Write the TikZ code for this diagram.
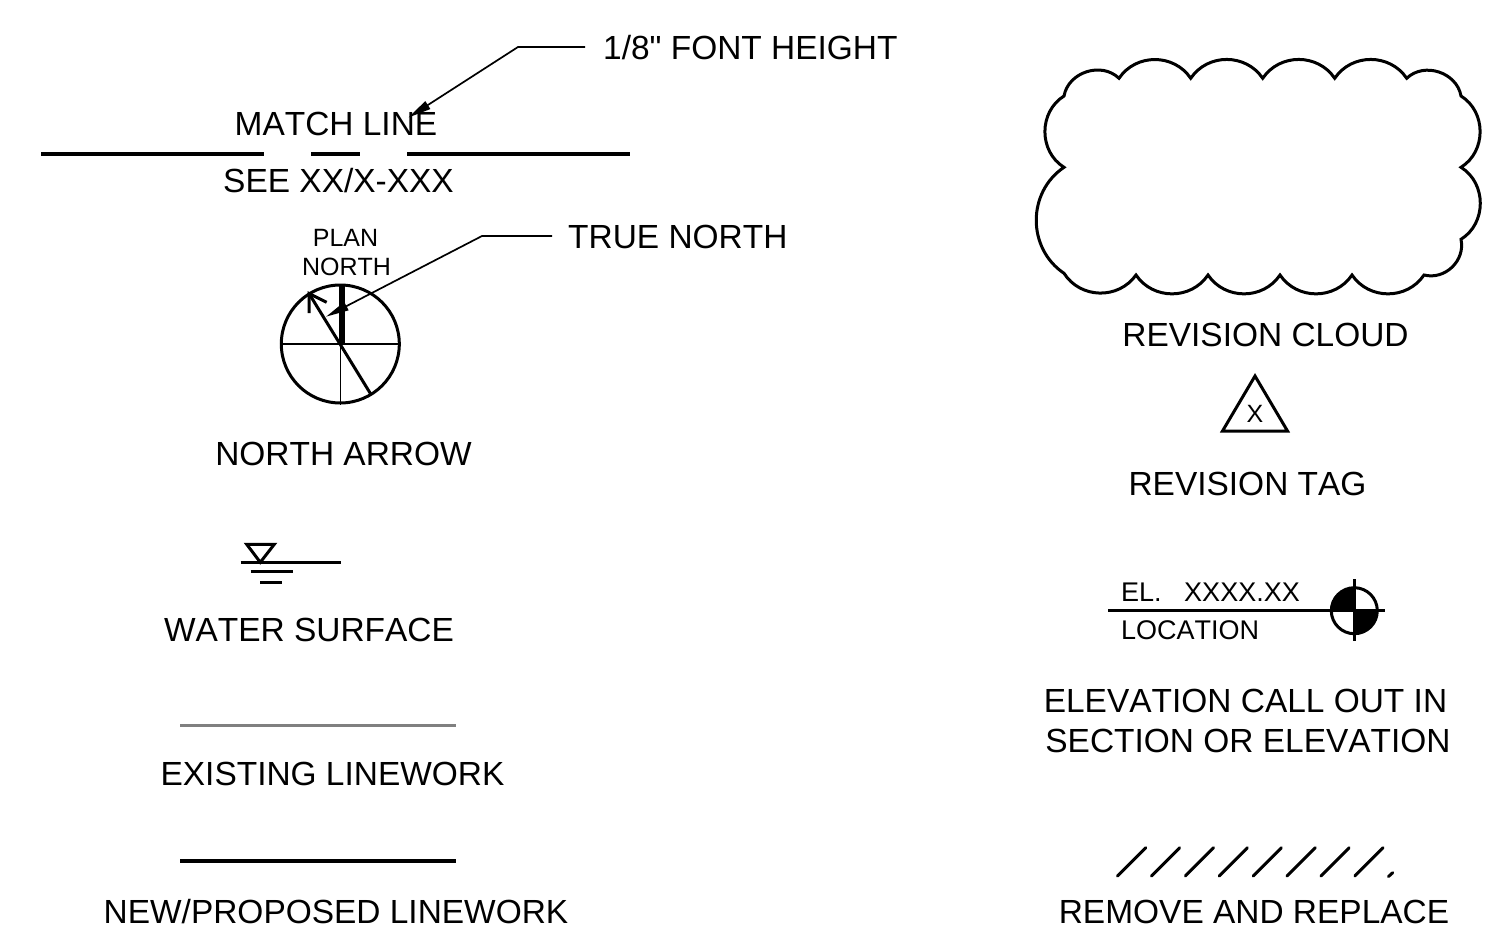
\documentclass[tikz,border=0pt]{standalone}
\usepackage{fontspec}
\setmainfont{Liberation Sans}[Kerning=Off]
\newfontfamily\plainfont{Liberation Sans}
\usetikzlibrary{arrows.meta}
\tikzset{
  x=1pt,y=-1pt,
  big/.style={inner sep=0pt,font=\fontsize{33.45}{36}\selectfont,anchor=base},
  bigl/.style={big,anchor=base west},
  small/.style={inner sep=0pt,font=\fontsize{25}{27}\selectfont,anchor=base},
  mid/.style={inner sep=0pt,font=\fontsize{27}{29}\selectfont,anchor=base west},
  heavy/.style={line width=3.4pt,line cap=butt},
  medium/.style={line width=3pt},
  thin line/.style={line width=1.6pt},
  leader/.style={line width=1.7pt,-{Triangle[length=23pt,width=9pt]}},
  cloudline/.style={line width=3pt,line join=miter,looseness=1.08},
}
\begin{document}
\begin{tikzpicture}
\useasboundingbox (0,0) rectangle (1503,952);
\fill[white] (0,0) rectangle (1503,952);

% texts
\node[bigl] (fh) at (603,60) {1/8{\plainfont "} FONT HEIGHT};
\node[big] (ml) at (336,136) {MATCH LINE};
\node[big] (see) at (338.5,193) {SEE XX/X-XXX};
\node[small] (pl) at (345.5,246) {PLAN};
\node[small] (pn) at (346.5,275) {NORTH};
\node[bigl] (tn) at (568,248) {TRUE NORTH};
\node[big] (na) at (343.5,465) {NORTH ARROW};
\node[big] (ws) at (309,641) {WATER SURFACE};
\node[big] (el) at (332.5,785) {EXISTING LINEWORK};
\node[big] (nl) at (336,923) {NEW/PROPOSED LINEWORK};
\node[big] (rc) at (1265.5,346) {REVISION CLOUD};
\node[big] (rt) at (1247.5,495) {REVISION TAG};
\node[mid] (ev) at (1121,601) {EL.\ \ \ XXXX.XX};
\node[mid] (lo) at (1121,639) {LOCATION};
\node[big] (e1) at (1245.5,712) {ELEVATION CALL OUT IN};
\node[big] (e2) at (1248,752) {SECTION OR ELEVATION};
\node[big] (rr) at (1254,923) {REMOVE AND REPLACE};

% match line
\coordinate (m1) at (41,154); \coordinate (m2) at (264,154);
\coordinate (m3) at (311,154); \coordinate (m4) at (360,154);
\coordinate (m5) at (407,154); \coordinate (m6) at (630,154);
\draw[heavy] (m1) -- (m2);
\draw[heavy] (m3) -- (m4);
\draw[heavy] (m5) -- (m6);
\coordinate (fa) at (585,47); \coordinate (fb) at (518,47); \coordinate (ft) at (408.5,117.5);
\draw[leader] (fa) -- (fb) -- (ft);

% north arrow
\coordinate (nc) at (340.3,344);
\node[circle,draw,medium,minimum size=118pt,inner sep=0pt] (nr) at (nc) {};
\draw[thin line] (nr.west) -- (nr.east);
\draw[thin line] (nc) -- (nr.south);
\coordinate (th) at (342,285.5); \coordinate (tb) at (342,344);
\draw[line width=5.5pt] (th) -- (tb);
\coordinate (da) at (370.7,394); \coordinate (db) at (309,293.5);
\coordinate (b1) at (309,313); \coordinate (b2) at (326.7,302.3);
\draw[medium] (da) -- (db);
\draw[medium] (b1) -- (db) -- (b2);
\coordinate (ta) at (552,236); \coordinate (tc) at (482,236); \coordinate (tt) at (326,316.7);
\draw[leader] (ta) -- (tc) -- (tt);

% water surface
\coordinate (w1) at (246.7,544.3); \coordinate (w2) at (274.3,544.3); \coordinate (w3) at (260.3,562.3);
\draw[medium] (w1) -- (w2) -- (w3) -- cycle;
\coordinate (wa) at (240.7,562.3); \coordinate (wb) at (340.7,562.3);
\coordinate (wc) at (250.7,571.5); \coordinate (wd) at (292.7,571.5);
\coordinate (we) at (260,582.3); \coordinate (wf) at (281.7,582.3);
\draw[medium] (wa) -- (wb);
\draw[medium] (wc) -- (wd);
\draw[medium] (we) -- (wf);

% linework samples
\coordinate (xa) at (180,725); \coordinate (xb) at (456,725);
\coordinate (ya) at (180,861); \coordinate (yb) at (456,861);
\draw[medium,color=black!50] (xa) -- (xb);
\draw[heavy] (ya) -- (yb);

% revision cloud
\coordinate (c1) at (1119,78.3);
\coordinate (c2) at (1190.7,78.3);
\coordinate (c3) at (1262.7,78.3);
\coordinate (c4) at (1334.7,78.3);
\coordinate (c5) at (1406.7,78.3);
\coordinate (c6) at (1461,96);
\coordinate (c7) at (1461,167.3);
\coordinate (c8) at (1461,239.3);
\coordinate (c9) at (1424,275);
\coordinate (c10) at (1352,275);
\coordinate (c11) at (1280,275);
\coordinate (c12) at (1208,275);
\coordinate (c13) at (1136,275);
\coordinate (c14) at (1064,273.3);
\coordinate (c15) at (1064,167.3);
\coordinate (c16) at (1064,96);
\draw[cloudline] (c1) to[bend left=56] (c2) to[bend left=56] (c3) to[bend left=56] (c4)
  to[bend left=56] (c5) to[bend left=62] (c6) to[bend left=58] (c7) to[bend left=58] (c8)
  to[bend left=58] (c9) to[bend left=56] (c10) to[bend left=56] (c11) to[bend left=56] (c12)
  to[bend left=56] (c13) to[bend left=56] (c14) to[bend left=56] (c15) to[bend left=58] (c16)
  to[bend left=62] (c1) -- cycle;

% revision tag
\coordinate (r1) at (1255,376); \coordinate (r2) at (1287.5,431); \coordinate (r3) at (1222.5,431);
\draw[medium] (r1) -- (r2) -- (r3) -- cycle;
\node[small] (rx) at (1255,422) {X};

% elevation mark
\coordinate (ec) at (1354.3,610.7);
\fill (ec) -- (1331.3,610.7) arc[start angle=180,end angle=90,radius=23pt] -- cycle;
\fill (ec) -- (1377.3,610.7) arc[start angle=0,end angle=-90,radius=23pt] -- cycle;
\node[circle,draw,medium,minimum size=46pt,inner sep=0pt] (em) at (ec) {};
\coordinate (ea) at (1108.3,610.7); \coordinate (eb) at (1385,610.7);
\coordinate (et) at (1354.3,579); \coordinate (eu) at (1354.3,641);
\draw[medium] (ea) -- (eb);
\draw[medium] (et) -- (eu);

% remove and replace hatch
\foreach \i in {0,...,7}{
  \draw[medium,line cap=round] (1117.5+33.9*\i,876) -- (1145.7+33.9*\i,847.8);
}
\coordinate (s1) at (1388.5,876.5); \coordinate (s2) at (1392.7,872.7);
\draw[medium,line cap=round] (s1) -- (s2);
\end{tikzpicture}
\end{document}
